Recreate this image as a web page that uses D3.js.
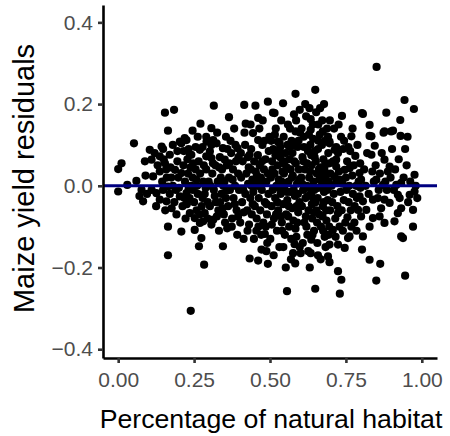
<!DOCTYPE html>
<html>
<head>
<meta charset="utf-8">
<script src="https://cdn.jsdelivr.net/npm/d3@7"></script>
<style>
  body { margin: 0; background: #fff; }
  text { font-family: "Liberation Sans", Arial, Helvetica, sans-serif; }
</style>
</head>
<body>
<div id="chart"></div>
<script>
// ---- data ----
const xTicks = [0, 0.25, 0.5, 0.75, 1.0];
const xTickLabels = ["0.00", "0.25", "0.50", "0.75", "1.00"];
const yTicks = [-0.4, -0.2, 0.0, 0.2, 0.4];
const yTickLabels = ["\u22120.4", "\u22120.2", "0.0", "0.2", "0.4"];
const xTitle = "Percentage of natural habitat";
const yTitle = "Maize yield residuals";
const fitIntercept = 0;

// [percentage of natural habitat, maize yield residual]
const lowHabitat = [
  [0.000,0.041],[0.011,0.055],[0.000,-0.014],[0.052,0.104],[0.077,-0.010],[0.082,-0.038],
  [0.030,0.002],[0.060,0.012],[0.090,0.025],[0.095,-0.020],[0.070,-0.025],[0.088,0.060],
  [0.104,0.088],[0.110,0.064],[0.115,0.023],[0.126,-0.018],[0.137,0.072],[0.137,0.035],
  [0.137,-0.034],[0.143,0.096],[0.148,-0.010],[0.154,0.055],[0.159,-0.038],[0.164,-0.002],
  [0.164,0.135],[0.154,0.179],[0.184,0.186],[0.164,-0.100],[0.164,-0.170],[0.170,0.076],
  [0.176,-0.055],[0.187,0.039],[0.120,0.080],[0.130,0.050],[0.145,0.010],[0.150,0.065],
  [0.160,0.020],[0.175,0.020],[0.180,0.000],[0.190,-0.010],[0.195,0.060],[0.170,-0.020],
  [0.185,-0.040],[0.192,-0.070],[0.155,-0.060],[0.125,-0.050],[0.110,-0.010],[0.180,0.100],
  [0.195,0.085],[0.172,0.045],[0.198,0.020],[0.158,0.040],[0.148,0.090],
  [0.203,0.108],[0.208,0.104],[0.219,0.117],[0.225,0.112],[0.208,0.031],[0.203,-0.026],
  [0.208,-0.112],[0.225,-0.018],[0.236,0.076],[0.236,-0.067],[0.247,0.055],[0.252,-0.079],
  [0.252,-0.108],[0.239,-0.306],[0.241,0.076],[0.266,-0.148],[0.274,-0.128],[0.283,-0.193],
  [0.269,-0.091],[0.285,-0.067],[0.269,0.088],[0.290,0.072],[0.290,0.120],[0.291,0.108],
  [0.271,0.152],[0.278,0.095],[0.280,-0.087],[0.215,0.050],[0.220,0.010],[0.230,0.030],
  [0.235,-0.030],[0.240,0.000],[0.245,0.020],[0.250,-0.040],[0.255,0.040],[0.260,0.000],
  [0.262,-0.020],[0.265,0.060],[0.270,0.030],[0.275,-0.050],[0.280,0.010],[0.285,-0.020],
  [0.290,0.040],[0.295,-0.040],[0.212,-0.050],[0.228,0.065],[0.258,-0.060],[0.226,-0.045],
  [0.246,-0.010],[0.268,-0.070],[0.298,0.010],[0.282,0.050],[0.295,-0.080],[0.216,0.085],
  [0.255,0.095],[0.262,0.120],[0.245,0.135],[0.232,0.090],[0.278,-0.030],[0.238,0.045],
  [0.222,-0.080],[0.200,-0.005],[0.232,-0.008],[0.257,0.015],[0.288,-0.005],[0.218,-0.030]
];
const midHabitat = [
  [0.302,-0.050],[0.313,-0.083],[0.307,0.100],[0.307,0.141],[0.313,0.112],[0.302,0.084],
  [0.307,0.068],[0.315,0.196],[0.324,0.104],[0.307,-0.095],[0.345,0.092],[0.345,-0.148],
  [0.351,0.064],[0.359,-0.104],[0.365,0.168],[0.393,0.092],[0.395,-0.075],[0.310,0.030],
  [0.315,-0.010],[0.320,0.050],[0.322,-0.040],[0.328,0.010],[0.330,-0.060],[0.335,0.070],
  [0.338,0.020],[0.340,-0.020],[0.342,0.040],[0.348,-0.070],[0.350,0.010],[0.355,-0.030],
  [0.358,0.050],[0.362,-0.050],[0.365,0.020],[0.368,-0.010],[0.372,0.080],[0.375,-0.080],
  [0.378,0.040],[0.380,-0.030],[0.385,0.000],[0.388,0.060],[0.390,-0.060],[0.395,0.030],
  [0.398,-0.010],[0.332,-0.110],[0.326,0.130],[0.355,0.120],[0.370,0.110],[0.382,0.140],
  [0.318,-0.025],[0.336,-0.040],[0.346,0.000],[0.360,0.090],[0.374,-0.100],[0.386,0.100],
  [0.392,-0.120],[0.304,0.000],[0.325,-0.075],[0.352,-0.090],[0.366,0.055],[0.384,-0.045],
  [0.396,0.070],[0.312,0.055],[0.333,0.045],[0.357,-0.012],[0.377,0.015],[0.344,-0.055],
  [0.415,0.198],[0.420,0.152],[0.452,0.196],[0.461,0.166],[0.444,0.129],[0.461,0.112],
  [0.433,0.076],[0.493,0.206],[0.413,-0.130],[0.433,-0.178],[0.461,-0.183],[0.493,-0.191],
  [0.472,-0.156],[0.488,-0.160],[0.483,-0.118],[0.455,-0.110],[0.431,-0.095],[0.405,0.020],
  [0.408,-0.040],[0.410,0.060],[0.412,-0.010],[0.418,0.100],[0.422,0.030],[0.425,-0.060],
  [0.428,0.005],[0.430,0.045],[0.435,-0.030],[0.438,0.090],[0.440,-0.070],[0.442,0.015],
  [0.445,-0.015],[0.448,0.060],[0.450,-0.050],[0.453,0.035],[0.456,-0.080],[0.458,0.000],
  [0.460,0.075],[0.463,-0.030],[0.466,0.050],[0.468,-0.060],[0.470,0.020],[0.473,-0.010],
  [0.475,0.100],[0.478,-0.090],[0.480,0.040],[0.483,-0.040],[0.485,0.065],[0.488,0.010],
  [0.490,-0.070],[0.493,0.030],[0.495,-0.020],[0.498,0.120],[0.402,-0.090],[0.416,0.130],
  [0.426,-0.110],[0.436,0.150],[0.447,-0.130],[0.465,0.140],[0.476,0.160],[0.486,-0.100],
  [0.496,0.085],[0.404,0.080],[0.414,-0.065],[0.427,0.070],[0.443,-0.045],[0.457,0.025],
  [0.471,-0.120],[0.482,0.110],[0.491,-0.140],[0.439,0.000],[0.467,0.005],
  [0.419,-0.020],[0.451,0.010],[0.474,0.060],[0.489,-0.045],[0.462,-0.100],[0.437,0.040]
];
const denseHabitat = [
  [0.510,0.179],[0.515,0.178],[0.532,0.104],[0.526,0.108],[0.543,0.202],[0.584,0.225],
  [0.598,0.186],[0.584,0.133],[0.581,0.098],[0.556,-0.258],[0.576,-0.165],[0.581,-0.143],
  [0.501,-0.130],[0.503,0.020],[0.505,-0.050],[0.507,0.060],[0.509,-0.010],[0.511,0.090],
  [0.513,-0.080],[0.515,0.030],[0.517,-0.030],[0.519,0.140],[0.521,0.000],[0.523,-0.110],
  [0.525,0.050],[0.527,-0.060],[0.529,0.015],[0.531,-0.150],[0.533,0.070],[0.535,-0.020],
  [0.537,0.160],[0.539,-0.090],[0.541,0.035],[0.543,-0.045],[0.545,0.120],[0.547,-0.005],
  [0.549,-0.120],[0.551,0.080],[0.553,-0.070],[0.555,0.045],[0.557,-0.035],[0.559,0.150],
  [0.561,0.010],[0.563,-0.100],[0.565,0.065],[0.567,-0.015],[0.569,-0.180],[0.571,0.110],
  [0.573,-0.055],[0.575,0.025],[0.577,-0.085],[0.579,0.175],[0.582,-0.025],[0.585,0.055],
  [0.587,-0.125],[0.589,0.005],[0.591,0.095],[0.593,-0.065],[0.595,0.040],[0.597,-0.040],
  [0.599,0.130],[0.504,0.110],[0.512,-0.170],[0.518,0.075],[0.524,-0.040],[0.534,0.095],
  [0.538,0.010],[0.544,-0.150],[0.548,0.060],[0.552,-0.200],[0.558,0.100],[0.562,-0.050],
  [0.566,0.140],[0.570,-0.130],[0.574,0.080],[0.578,-0.010],[0.583,-0.190],[0.586,0.160],
  [0.590,-0.090],[0.594,0.110],[0.598,-0.150],[0.506,-0.095],[0.516,0.125],[0.528,-0.005],
  [0.536,-0.075],[0.546,0.030],[0.556,-0.015],[0.568,0.040],[0.580,0.060],[0.592,-0.020],
  [0.596,0.015],[0.508,0.040],[0.520,-0.070],[0.530,0.085],[0.540,-0.110],[0.550,0.005],
  [0.560,-0.075],[0.572,0.020],[0.588,-0.050],[0.542,0.055],[0.564,0.095],[0.584,-0.105],
  [0.601,-0.165],[0.634,-0.165],[0.636,-0.132],[0.649,0.235],[0.649,-0.252],[0.658,-0.170],
  [0.678,0.200],[0.634,0.163],[0.634,0.137],[0.674,0.133],[0.696,0.108],[0.691,-0.173],
  [0.696,-0.187],[0.696,-0.144],[0.696,0.104],[0.696,0.055],[0.603,0.020],[0.605,-0.050],
  [0.607,0.070],[0.609,-0.010],[0.611,0.120],[0.613,-0.090],[0.615,0.040],[0.617,-0.030],
  [0.619,0.170],[0.621,0.000],[0.623,-0.120],[0.625,0.085],[0.627,-0.060],[0.629,0.020],
  [0.631,-0.200],[0.633,0.100],[0.635,-0.020],[0.637,0.050],[0.639,-0.080],[0.641,0.150],
  [0.643,0.010],[0.645,-0.110],[0.647,0.070],[0.650,-0.040],[0.652,0.180],[0.654,0.030],
  [0.656,-0.140],[0.658,0.090],[0.660,-0.005],[0.662,-0.070],[0.664,0.125],[0.666,0.045],
  [0.668,-0.100],[0.670,0.000],[0.672,0.160],[0.674,-0.050],[0.676,0.065],[0.678,-0.015],
  [0.680,-0.125],[0.682,0.110],[0.684,0.025],[0.686,-0.085],[0.688,0.140],[0.690,-0.035],
  [0.692,0.080],[0.694,0.010],[0.698,-0.060],[0.604,0.140],[0.608,-0.140],[0.612,0.095],
  [0.618,-0.075],[0.622,0.055],[0.626,-0.160],[0.630,0.190],[0.638,-0.045],[0.642,0.115],
  [0.646,-0.010],[0.651,0.060],[0.655,-0.090],[0.659,0.150],[0.663,0.015],[0.667,-0.180],
  [0.671,0.100],[0.675,-0.110],[0.679,0.040],[0.683,-0.150],[0.687,0.010],[0.691,0.120],
  [0.695,-0.100],[0.699,0.030],[0.606,0.005],[0.616,0.200],[0.624,-0.025],[0.632,0.035],
  [0.640,-0.120],[0.648,0.085],[0.657,-0.030],[0.665,0.190],[0.673,-0.075],[0.681,0.050],
  [0.689,-0.010],[0.697,0.160],[0.614,-0.005],[0.628,0.125],[0.644,-0.065],[0.661,0.040],
  [0.677,-0.040],[0.693,-0.120],[0.610,0.060],[0.620,-0.100],[0.636,0.075],[0.653,-0.060],
  [0.669,0.025],[0.685,-0.060],[0.626,-0.005],[0.642,-0.030],[0.659,0.110],[0.676,0.020]
];
const highHabitat = [
  [0.718,0.095],[0.713,0.088],[0.724,0.080],[0.718,0.064],[0.718,0.047],[0.713,0.023],
  [0.730,0.015],[0.737,0.171],[0.746,0.039],[0.762,0.043],[0.768,0.121],[0.781,0.073],
  [0.795,0.031],[0.800,0.015],[0.803,0.178],[0.724,-0.067],[0.707,-0.108],[0.724,-0.144],
  [0.724,-0.209],[0.730,-0.264],[0.735,-0.230],[0.746,-0.152],[0.757,-0.128],[0.755,-0.077],
  [0.762,-0.124],[0.779,-0.050],[0.790,-0.059],[0.795,-0.026],[0.800,-0.075],[0.703,0.000],
  [0.705,-0.040],[0.708,0.060],[0.710,-0.020],[0.715,-0.080],[0.720,0.010],[0.722,-0.050],
  [0.727,0.035],[0.729,-0.100],[0.732,-0.015],[0.734,0.120],[0.736,-0.060],[0.739,0.005],
  [0.741,0.090],[0.743,-0.035],[0.748,-0.090],[0.750,0.020],[0.752,-0.010],[0.754,0.060],
  [0.759,-0.040],[0.761,0.000],[0.764,0.085],[0.766,-0.060],[0.771,0.025],[0.773,-0.020],
  [0.776,0.050],[0.778,-0.090],[0.784,0.000],[0.786,-0.030],[0.788,0.100],[0.792,0.010],
  [0.797,0.055],[0.711,0.140],[0.726,0.150],[0.744,0.110],[0.758,0.095],[0.772,0.140],
  [0.716,-0.125],[0.740,-0.110],[0.768,-0.100],[0.785,-0.110],[0.798,-0.005],
  [0.806,0.176],[0.828,0.149],[0.834,0.121],[0.828,0.122],[0.845,0.098],[0.834,0.076],
  [0.837,0.035],[0.851,0.291],[0.877,0.133],[0.899,0.133],[0.874,0.130],[0.905,0.135],
  [0.883,0.179],[0.930,0.122],[0.929,0.161],[0.943,0.210],[0.974,0.188],[0.877,0.064],
  [0.924,0.065],[0.894,0.047],[0.888,0.035],[0.976,0.027],[0.850,0.015],[0.872,0.002],
  [0.916,0.002],[0.932,0.007],[0.960,-0.022],[0.976,-0.014],[0.921,-0.022],[0.839,-0.034],
  [0.855,-0.030],[0.877,-0.034],[0.894,-0.042],[0.927,-0.030],[0.932,-0.055],[0.921,-0.067],
  [0.971,-0.059],[0.971,-0.100],[0.866,-0.055],[0.861,-0.075],[0.839,-0.079],[0.828,-0.100],
  [0.877,-0.091],[0.910,-0.087],[0.932,-0.124],[0.806,-0.124],[0.806,-0.038],[0.817,-0.059],
  [0.803,-0.156],[0.828,-0.181],[0.863,-0.191],[0.850,-0.232],[0.945,-0.220],[0.938,-0.128],
  [0.810,0.040],[0.815,0.000],[0.820,0.080],[0.825,-0.020],[0.842,0.010],[0.848,0.050],
  [0.858,-0.010],[0.862,0.030],[0.868,0.080],[0.880,0.010],[0.885,-0.010],[0.897,0.020],
  [0.902,0.090],[0.908,-0.010],[0.912,0.040],[0.940,0.020],[0.950,0.050],[0.955,-0.040],
  [0.962,0.010],[0.980,0.000],[0.985,-0.030],[0.945,0.090],[0.953,0.120]
];
const points = [].concat(lowHabitat, midHabitat, denseHabitat, highHabitat);

// ---- layout ----
const W = 450, H = 436;
const panel = { left: 103, right: 437, top: 5, bottom: 358 };

const x = d3.scaleLinear().domain([-0.05, 1.05]).range([panel.left, panel.right]);
const y = d3.scaleLinear().domain([-0.4215, 0.4425]).range([panel.bottom, panel.top]);

const svg = d3.select("#chart").append("svg")
  .attr("width", W).attr("height", H)
  .style("display", "block");

// points
svg.append("g").selectAll("circle")
  .data(points).join("circle")
  .attr("cx", d => x(d[0]))
  .attr("cy", d => y(d[1]))
  .attr("r", 4.1)
  .attr("fill", "#000");

// horizontal fit line at zero
svg.append("line")
  .attr("x1", panel.left).attr("x2", panel.right)
  .attr("y1", y(fitIntercept)).attr("y2", y(fitIntercept))
  .attr("stroke", "#000080").attr("stroke-width", 3);

// axes
const xAxis = d3.axisBottom(x).tickValues(xTicks)
  .tickFormat((d, i) => xTickLabels[i]).tickSize(5).tickSizeOuter(0).tickPadding(4);
const yAxis = d3.axisLeft(y).tickValues(yTicks)
  .tickFormat((d, i) => yTickLabels[i]).tickSize(5).tickSizeOuter(0).tickPadding(4);

const gx = svg.append("g").attr("transform", `translate(0,${panel.bottom})`).call(xAxis);
const gy = svg.append("g").attr("transform", `translate(${panel.left},0)`).call(yAxis);

[gx, gy].forEach(g => {
  g.select(".domain").attr("stroke", "#000").attr("stroke-width", 2.6);
  g.selectAll(".tick line").attr("stroke", "#333").attr("stroke-width", 2.6);
  g.selectAll(".tick text").attr("fill", "#4d4d4d")
    .style("font-size", "21px")
    .style("font-family", "'Liberation Sans', Arial, Helvetica, sans-serif");
});
gx.selectAll(".tick text").attr("y", 14);
gy.selectAll(".tick text").attr("x", -10);

// titles
svg.append("text")
  .attr("x", (panel.left + panel.right) / 2 + 1)
  .attr("y", 428)
  .attr("text-anchor", "middle")
  .style("font-size", "26.7px")
  .attr("fill", "#000")
  .text(xTitle);

svg.append("text")
  .attr("transform", `translate(34,${(panel.top + panel.bottom) / 2 - 3}) rotate(-90)`)
  .attr("text-anchor", "middle")
  .style("font-size", "29px")
  .attr("fill", "#000")
  .text(yTitle);
</script>
</body>
</html>
